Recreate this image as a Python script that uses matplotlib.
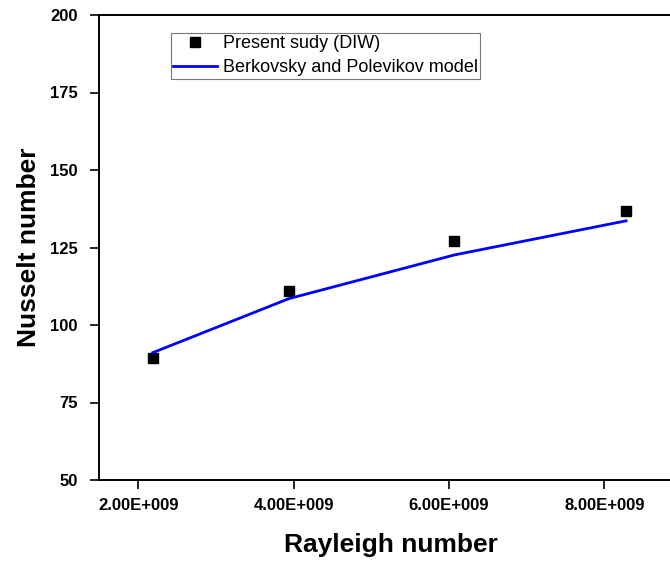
import matplotlib
matplotlib.use("Agg")
import matplotlib.pyplot as plt

plt.rcParams['font.family'] = ['Liberation Sans', 'DejaVu Sans']

# Present study (DIW) measurements
ra_exp = [2.19e9, 3.94e9, 6.07e9, 8.28e9]
nu_exp = [89.3, 111.0, 127.1, 136.8]

# Berkovsky and Polevikov correlation
ra_model = [2.19e9, 3.94e9, 6.07e9, 8.28e9]
nu_model = [91.1, 108.5, 122.6, 133.6]

xticks = [2e9, 4e9, 6e9, 8e9]
xtick_labels = ['2.00E+009', '4.00E+009', '6.00E+009', '8.00E+009']
yticks = [50, 75, 100, 125, 150, 175, 200]

fig = plt.figure(figsize=(6.7, 5.68), dpi=100)
# right edge runs off the canvas, as in the original
ax = fig.add_axes([99.3 / 670, 1 - 480 / 568, (682 - 99.3) / 670, 465 / 568])

ax.plot(ra_exp, nu_exp, 's', color='black', markersize=7, label='Present sudy (DIW)')
ax.plot(ra_model, nu_model, '-', color='#0000ff', linewidth=2,
        label='Berkovsky and Polevikov model')

ax.set_xlim(1.5e9, 9e9)
ax.set_ylim(50, 200)
ax.set_xticks(xticks)
ax.set_xticklabels(xtick_labels)
ax.set_yticks(yticks)

for lab in ax.get_xticklabels() + ax.get_yticklabels():
    lab.set_fontweight('bold')
    lab.set_fontsize(12)

ax.tick_params(direction='out', length=6.2, width=1.2)
ax.tick_params(axis='x', pad=7)
ax.tick_params(axis='y', pad=9.5)
for side in ['left', 'bottom', 'top', 'right']:
    ax.spines[side].set_linewidth(1.4)

ax.set_xlabel('Rayleigh number', fontsize=19, fontweight='bold', labelpad=14)
ax.set_ylabel('Nusselt number', fontsize=19, fontweight='bold', labelpad=6)

leg = ax.legend(loc='upper left', bbox_to_anchor=(170.7 / 670, 1 - 33 / 568),
                bbox_transform=fig.transFigure, fontsize=13, frameon=True,
                fancybox=False, borderpad=0.12, borderaxespad=0, handlelength=2.45,
                handletextpad=0.3, labelspacing=0.4)
leg.get_frame().set_edgecolor('#555555')
leg.get_frame().set_linewidth(0.8)

fig.savefig('out.png', dpi=100)
